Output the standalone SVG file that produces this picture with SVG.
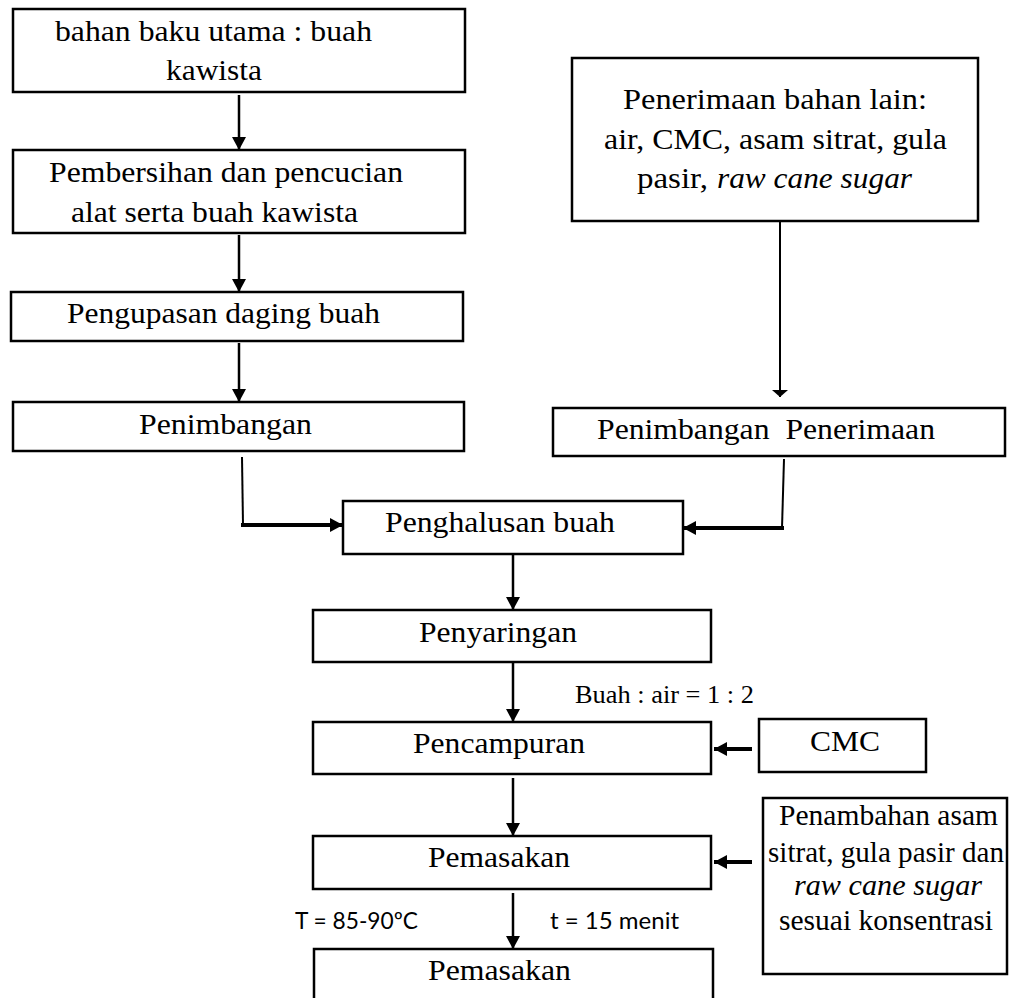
<svg xmlns="http://www.w3.org/2000/svg" width="1010" height="998" viewBox="0 0 1010 998">
  <style>
    .box { fill: #ffffff; stroke: #000000; stroke-width: 2.5; }
    .t { font-family: "Liberation Serif", "Times New Roman", serif; font-size: 30px; fill: #000000; white-space: pre; }
    .note { font-family: "Liberation Serif", "Times New Roman", serif; font-size: 25px; fill: #000000; white-space: pre; }
    .cal { font-family: Lato, "Open Sans", sans-serif; font-size: 24px; fill: #000000; white-space: pre; }
    .ln { fill: none; stroke: #000000; stroke-width: 2.5; }
    .thin { fill: none; stroke: #000000; stroke-width: 2; }
    .bold { fill: none; stroke: #000000; stroke-width: 4; }
  </style>
  <defs>
    <marker id="head" markerUnits="userSpaceOnUse" markerWidth="16" markerHeight="16" refX="13" refY="7" orient="auto">
      <path d="M0,0 L13,7 L0,14 Z" fill="#000000"/>
    </marker>
    <marker id="flat" markerUnits="userSpaceOnUse" markerWidth="10" markerHeight="18" refX="7" refY="8" orient="auto">
      <path d="M0,0 L7,8 L0,16 Z" fill="#000000"/>
    </marker>
  </defs>
  <rect width="1010" height="998" fill="#ffffff"/>

  <g id="n-bahan-baku">
    <rect class="box" x="13" y="9" width="452" height="83"/>
    <text class="t" x="55" y="41" textLength="317" lengthAdjust="spacingAndGlyphs">bahan baku utama : buah</text>
    <text class="t" x="166" y="80" textLength="96" lengthAdjust="spacingAndGlyphs">kawista</text>
  </g>
  <g id="n-pembersihan">
    <rect class="box" x="13" y="150" width="452" height="83"/>
    <text class="t" x="49" y="182" textLength="354" lengthAdjust="spacingAndGlyphs">Pembersihan dan pencucian</text>
    <text class="t" x="71" y="222" textLength="287" lengthAdjust="spacingAndGlyphs">alat serta buah kawista</text>
  </g>
  <g id="n-pengupasan">
    <rect class="box" x="11" y="292" width="452" height="49"/>
    <text class="t" x="67" y="323" textLength="313" lengthAdjust="spacingAndGlyphs">Pengupasan daging buah</text>
  </g>
  <g id="n-penimbangan">
    <rect class="box" x="13" y="402" width="451" height="49"/>
    <text class="t" x="139" y="434" textLength="173" lengthAdjust="spacingAndGlyphs">Penimbangan</text>
  </g>
  <g id="n-penerimaan">
    <rect class="box" x="572" y="58" width="406" height="163"/>
    <text class="t" x="623" y="109" textLength="304" lengthAdjust="spacingAndGlyphs">Penerimaan bahan lain:</text>
    <text class="t" x="604" y="149" textLength="343" lengthAdjust="spacingAndGlyphs">air, CMC, asam sitrat, gula</text>
    <text class="t" x="637" y="188" textLength="71" lengthAdjust="spacingAndGlyphs">pasir,</text>
    <text class="t" x="717" y="188" textLength="195" lengthAdjust="spacingAndGlyphs" font-style="italic">raw cane sugar</text>
  </g>
  <g id="n-penimbangan-penerimaan">
    <rect class="box" x="553" y="408" width="452" height="48"/>
    <text class="t" x="597" y="439" textLength="338" lengthAdjust="spacingAndGlyphs">Penimbangan  Penerimaan</text>
  </g>
  <g id="n-penghalusan">
    <rect class="box" x="343" y="501" width="340" height="53"/>
    <text class="t" x="385" y="532" textLength="230" lengthAdjust="spacingAndGlyphs">Penghalusan buah</text>
  </g>
  <g id="n-penyaringan">
    <rect class="box" x="313" y="610" width="398" height="52"/>
    <text class="t" x="419" y="642" textLength="158" lengthAdjust="spacingAndGlyphs">Penyaringan</text>
  </g>
  <g id="n-pencampuran">
    <rect class="box" x="313" y="722" width="398" height="52"/>
    <text class="t" x="413" y="753" textLength="172" lengthAdjust="spacingAndGlyphs">Pencampuran</text>
  </g>
  <g id="n-cmc">
    <rect class="box" x="759" y="719" width="167" height="53"/>
    <text class="t" x="810" y="751" textLength="70" lengthAdjust="spacingAndGlyphs">CMC</text>
  </g>
  <g id="n-pemasakan-1">
    <rect class="box" x="313" y="836" width="398" height="53"/>
    <text class="t" x="428" y="867" textLength="142" lengthAdjust="spacingAndGlyphs">Pemasakan</text>
  </g>
  <g id="n-penambahan">
    <rect class="box" x="763" y="798" width="244" height="176"/>
    <text class="t" x="779" y="825" textLength="219" lengthAdjust="spacingAndGlyphs">Penambahan asam</text>
    <text class="t" x="768" y="862" textLength="236" lengthAdjust="spacingAndGlyphs">sitrat, gula pasir dan</text>
    <text class="t" x="794" y="895" textLength="188" lengthAdjust="spacingAndGlyphs" font-style="italic">raw cane sugar</text>
    <text class="t" x="779" y="930" textLength="214" lengthAdjust="spacingAndGlyphs">sesuai konsentrasi</text>
  </g>
  <g id="n-pemasakan-2">
    <path class="box" d="M314,1000 V949 H713 V1000"/>
    <text class="t" x="428" y="980" textLength="143" lengthAdjust="spacingAndGlyphs">Pemasakan</text>
  </g>

  <g id="connectors">
    <line class="ln" x1="239" y1="95" x2="239" y2="150" marker-end="url(#head)"/>
    <line class="ln" x1="239" y1="235" x2="239" y2="292" marker-end="url(#head)"/>
    <line class="ln" x1="239" y1="343" x2="239" y2="402" marker-end="url(#head)"/>
    <line class="thin" x1="780" y1="222" x2="780" y2="397" marker-end="url(#flat)"/>
    <path class="thin" d="M242,457 L243,525"/>
    <path class="bold" d="M241,525 H343" marker-end="url(#head)"/>
    <path class="thin" d="M784,459 L782,528"/>
    <path class="bold" d="M784,528 H683" marker-end="url(#head)"/>
    <line class="ln" x1="513" y1="554" x2="513" y2="610" marker-end="url(#head)"/>
    <line class="ln" x1="513" y1="662" x2="513" y2="722" marker-end="url(#head)"/>
    <line class="ln" x1="513" y1="778" x2="513" y2="836" marker-end="url(#head)"/>
    <line class="ln" x1="513" y1="893" x2="513" y2="949" marker-end="url(#head)"/>
    <line class="bold" x1="752" y1="749" x2="714" y2="749" marker-end="url(#head)"/>
    <line class="bold" x1="752" y1="862" x2="714" y2="862" marker-end="url(#head)"/>
  </g>

  <g id="labels">
    <text class="note" x="575" y="703" textLength="179" lengthAdjust="spacingAndGlyphs">Buah : air = 1 : 2</text>
    <text class="cal" x="295" y="929" textLength="123" lengthAdjust="spacingAndGlyphs">T = 85-90ºC</text>
    <text class="cal" x="550" y="929" textLength="129" lengthAdjust="spacingAndGlyphs">t = 15 menit</text>
  </g>
</svg>
